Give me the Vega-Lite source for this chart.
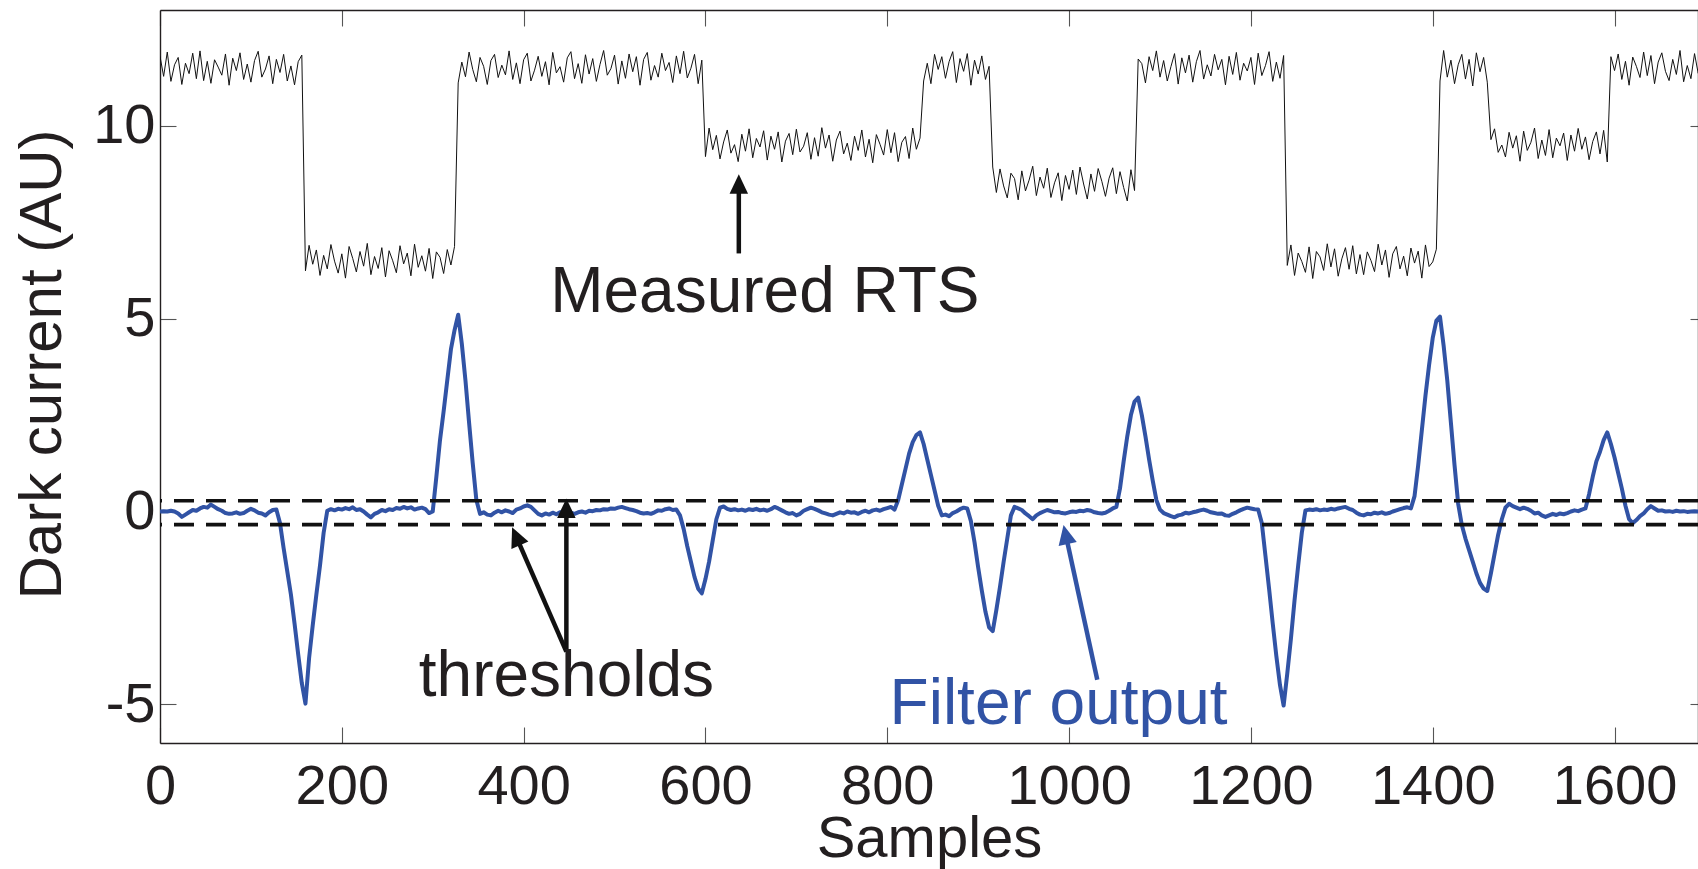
{
"$schema":"https://vega.github.io/schema/vega-lite/v6.json",
"autosize":"none",
"width":1538,"height":733,
"padding":{"left":160,"top":10,"right":0,"bottom":126},
"background":"white",
"config":{"view":{"stroke":null},"font":"Liberation Sans","axis":{"grid":false,"labelFont":"Liberation Sans","titleFont":"Liberation Sans","labelColor":"#231f20","titleColor":"#231f20","titleFontWeight":"normal","domainColor":"#231f20","domainWidth":1.4,"tickColor":"#555","tickWidth":1.1,"labelFlush":false,"labelOverlap":false,"labelBound":false}},
"datasets":{"sig":[
{"x":0,"r":11.80,"f":0.00},{"x":4,"r":11.28,"f":0.01},{"x":8,"r":11.91,"f":0.00},{"x":12,"r":11.15,"f":0.02},{"x":16,"r":11.58,"f":0.00},{"x":20,"r":11.77,"f":-0.05},{"x":24,"r":11.07,"f":-0.14},{"x":28,"r":11.62,"f":-0.08},{"x":32,"r":11.35,"f":-0.02},{"x":36,"r":11.88,"f":0.04},
{"x":40,"r":11.22,"f":0.02},{"x":44,"r":11.94,"f":0.08},{"x":48,"r":11.17,"f":0.12},{"x":52,"r":11.67,"f":0.10},{"x":56,"r":11.10,"f":0.18},{"x":60,"r":11.71,"f":0.12},{"x":64,"r":11.52,"f":0.06},{"x":68,"r":11.31,"f":0.02},{"x":72,"r":11.86,"f":-0.04},{"x":76,"r":11.05,"f":-0.06},
{"x":80,"r":11.75,"f":-0.05},{"x":84,"r":11.43,"f":-0.02},{"x":88,"r":11.89,"f":-0.06},{"x":92,"r":11.20,"f":-0.04},{"x":96,"r":11.60,"f":0.02},{"x":100,"r":11.13,"f":0.07},{"x":104,"r":11.69,"f":0.03},{"x":108,"r":11.93,"f":-0.03},{"x":112,"r":11.26,"f":-0.05},{"x":116,"r":11.47,"f":-0.10},
{"x":120,"r":11.81,"f":-0.02},{"x":124,"r":11.09,"f":0.04},{"x":128,"r":11.72,"f":0.05},{"x":132,"r":11.38,"f":-0.30},{"x":136,"r":11.85,"f":-0.95},{"x":140,"r":11.16,"f":-1.55},{"x":144,"r":11.55,"f":-2.15},{"x":148,"r":11.06,"f":-2.90},{"x":152,"r":11.66,"f":-3.70},{"x":156,"r":11.83,"f":-4.45},
{"x":160,"r":6.24,"f":-4.98},{"x":164,"r":6.90,"f":-3.80},{"x":168,"r":6.41,"f":-2.95},{"x":172,"r":6.78,"f":-2.15},{"x":176,"r":6.12,"f":-1.40},{"x":180,"r":6.64,"f":-0.55},{"x":184,"r":6.29,"f":0.02},{"x":188,"r":6.92,"f":0.06},{"x":192,"r":6.49,"f":0.03},{"x":196,"r":6.18,"f":0.07},
{"x":200,"r":6.68,"f":0.05},{"x":204,"r":6.05,"f":0.09},{"x":208,"r":6.87,"f":0.06},{"x":212,"r":6.56,"f":0.11},{"x":216,"r":6.21,"f":0.04},{"x":220,"r":6.74,"f":0.06},{"x":224,"r":6.36,"f":0.00},{"x":228,"r":6.95,"f":-0.08},{"x":232,"r":6.14,"f":-0.15},{"x":236,"r":6.61,"f":-0.06},
{"x":240,"r":6.30,"f":-0.02},{"x":244,"r":6.84,"f":0.04},{"x":248,"r":6.08,"f":0.01},{"x":252,"r":6.76,"f":0.06},{"x":256,"r":6.50,"f":0.04},{"x":260,"r":6.19,"f":0.09},{"x":264,"r":6.89,"f":0.07},{"x":268,"r":6.42,"f":0.12},{"x":272,"r":6.70,"f":0.08},{"x":276,"r":6.11,"f":0.11},
{"x":280,"r":6.93,"f":0.05},{"x":284,"r":6.33,"f":0.08},{"x":288,"r":6.63,"f":0.10},{"x":292,"r":6.23,"f":0.06},{"x":296,"r":6.82,"f":-0.04},{"x":300,"r":6.04,"f":0.00},{"x":304,"r":6.73,"f":0.90},{"x":308,"r":6.59,"f":1.85},{"x":312,"r":6.17,"f":2.60},{"x":316,"r":6.79,"f":3.40},
{"x":320,"r":6.39,"f":4.20},{"x":324,"r":6.87,"f":4.70},{"x":328,"r":11.11,"f":5.10},{"x":332,"r":11.65,"f":4.35},{"x":336,"r":11.27,"f":3.40},{"x":340,"r":11.91,"f":2.30},{"x":344,"r":11.46,"f":1.25},{"x":348,"r":11.14,"f":0.30},{"x":352,"r":11.77,"f":-0.06},{"x":356,"r":11.54,"f":-0.02},
{"x":360,"r":11.07,"f":-0.08},{"x":364,"r":11.69,"f":-0.10},{"x":368,"r":11.85,"f":-0.03},{"x":372,"r":11.25,"f":0.02},{"x":376,"r":11.57,"f":-0.02},{"x":380,"r":11.32,"f":0.03},{"x":384,"r":11.94,"f":0.00},{"x":388,"r":11.20,"f":-0.04},{"x":392,"r":11.63,"f":0.05},{"x":396,"r":11.09,"f":0.08},
{"x":400,"r":11.71,"f":0.13},{"x":404,"r":11.88,"f":0.16},{"x":408,"r":11.16,"f":0.12},{"x":412,"r":11.44,"f":0.03},{"x":416,"r":11.80,"f":-0.06},{"x":420,"r":11.28,"f":-0.10},{"x":424,"r":11.66,"f":-0.05},{"x":428,"r":11.06,"f":-0.08},{"x":432,"r":11.90,"f":-0.03},{"x":436,"r":11.37,"f":-0.07},
{"x":440,"r":11.53,"f":-0.02},{"x":444,"r":11.13,"f":-0.04},{"x":448,"r":11.76,"f":-0.06},{"x":452,"r":11.92,"f":-0.03},{"x":456,"r":11.22,"f":-0.06},{"x":460,"r":11.61,"f":-0.02},{"x":464,"r":11.10,"f":0.00},{"x":468,"r":11.84,"f":-0.03},{"x":472,"r":11.34,"f":0.02},{"x":476,"r":11.74,"f":0.01},
{"x":480,"r":11.15,"f":0.04},{"x":484,"r":11.59,"f":0.03},{"x":488,"r":11.95,"f":0.06},{"x":492,"r":11.31,"f":0.05},{"x":496,"r":11.48,"f":0.08},{"x":500,"r":11.83,"f":0.07},{"x":504,"r":11.08,"f":0.10},{"x":508,"r":11.68,"f":0.12},{"x":512,"r":11.23,"f":0.09},{"x":516,"r":11.86,"f":0.06},
{"x":520,"r":11.40,"f":0.04},{"x":524,"r":11.79,"f":0.01},{"x":528,"r":11.05,"f":-0.03},{"x":532,"r":11.72,"f":-0.05},{"x":536,"r":11.90,"f":-0.04},{"x":540,"r":11.18,"f":-0.06},{"x":544,"r":11.56,"f":-0.02},{"x":548,"r":11.26,"f":0.03},{"x":552,"r":11.88,"f":0.02},{"x":556,"r":11.43,"f":0.06},
{"x":560,"r":11.64,"f":0.08},{"x":564,"r":11.12,"f":0.04},{"x":568,"r":11.81,"f":0.05},{"x":572,"r":11.35,"f":-0.10},{"x":576,"r":11.93,"f":-0.45},{"x":580,"r":11.24,"f":-0.90},{"x":584,"r":11.49,"f":-1.30},{"x":588,"r":11.85,"f":-1.70},{"x":592,"r":11.09,"f":-2.00},{"x":596,"r":11.70,"f":-2.12},
{"x":600,"r":9.20,"f":-1.75},{"x":604,"r":9.94,"f":-1.30},{"x":608,"r":9.38,"f":-0.75},{"x":612,"r":9.75,"f":-0.20},{"x":616,"r":9.14,"f":0.10},{"x":620,"r":9.58,"f":0.13},{"x":624,"r":9.89,"f":0.07},{"x":628,"r":9.29,"f":0.04},{"x":632,"r":9.51,"f":0.06},{"x":636,"r":9.07,"f":0.03},
{"x":640,"r":9.78,"f":0.05},{"x":644,"r":9.34,"f":0.02},{"x":648,"r":9.92,"f":0.06},{"x":652,"r":9.17,"f":0.04},{"x":656,"r":9.67,"f":0.07},{"x":660,"r":9.45,"f":0.03},{"x":664,"r":9.87,"f":0.05},{"x":668,"r":9.11,"f":0.02},{"x":672,"r":9.73,"f":0.06},{"x":676,"r":9.39,"f":0.12},
{"x":680,"r":9.84,"f":0.08},{"x":684,"r":9.06,"f":0.03},{"x":688,"r":9.60,"f":-0.02},{"x":692,"r":9.80,"f":-0.06},{"x":696,"r":9.25,"f":-0.04},{"x":700,"r":9.91,"f":-0.10},{"x":704,"r":9.32,"f":-0.06},{"x":708,"r":9.47,"f":0.02},{"x":712,"r":9.82,"f":0.06},{"x":716,"r":9.13,"f":0.10},
{"x":720,"r":9.69,"f":0.07},{"x":724,"r":9.21,"f":0.03},{"x":728,"r":9.95,"f":-0.02},{"x":732,"r":9.42,"f":-0.05},{"x":736,"r":9.76,"f":-0.08},{"x":740,"r":9.08,"f":-0.10},{"x":744,"r":9.63,"f":-0.06},{"x":748,"r":9.86,"f":-0.02},{"x":752,"r":9.27,"f":-0.05},{"x":756,"r":9.55,"f":0.00},
{"x":760,"r":9.10,"f":-0.03},{"x":764,"r":9.73,"f":-0.02},{"x":768,"r":9.36,"f":-0.06},{"x":772,"r":9.89,"f":-0.01},{"x":776,"r":9.19,"f":0.02},{"x":780,"r":9.65,"f":-0.02},{"x":784,"r":9.04,"f":0.03},{"x":788,"r":9.77,"f":0.05},{"x":792,"r":9.52,"f":0.02},{"x":796,"r":9.24,"f":0.06},
{"x":800,"r":9.90,"f":0.09},{"x":804,"r":9.30,"f":0.12},{"x":808,"r":9.82,"f":0.05},{"x":812,"r":9.07,"f":0.30},{"x":816,"r":9.57,"f":0.70},{"x":820,"r":9.72,"f":1.10},{"x":824,"r":9.15,"f":1.50},{"x":828,"r":9.94,"f":1.80},{"x":832,"r":9.39,"f":1.98},{"x":836,"r":9.68,"f":2.05},
{"x":840,"r":11.16,"f":1.75},{"x":844,"r":11.62,"f":1.35},{"x":848,"r":11.09,"f":0.95},{"x":852,"r":11.85,"f":0.55},{"x":856,"r":11.46,"f":0.15},{"x":860,"r":11.79,"f":-0.10},{"x":864,"r":11.23,"f":-0.08},{"x":868,"r":11.66,"f":-0.12},{"x":872,"r":11.92,"f":-0.04},{"x":876,"r":11.12,"f":0.00},
{"x":880,"r":11.74,"f":0.06},{"x":884,"r":11.41,"f":0.10},{"x":888,"r":11.87,"f":0.08},{"x":892,"r":11.05,"f":-0.25},{"x":896,"r":11.70,"f":-0.80},{"x":900,"r":11.34,"f":-1.45},{"x":904,"r":11.81,"f":-2.05},{"x":908,"r":11.20,"f":-2.60},{"x":912,"r":11.54,"f":-3.00},{"x":916,"r":8.93,"f":-3.10},
{"x":920,"r":8.27,"f":-2.55},{"x":924,"r":8.88,"f":-1.95},{"x":928,"r":8.44,"f":-1.30},{"x":932,"r":8.13,"f":-0.70},{"x":936,"r":8.77,"f":-0.10},{"x":940,"r":8.63,"f":0.12},{"x":944,"r":8.08,"f":0.08},{"x":948,"r":8.83,"f":0.04},{"x":952,"r":8.31,"f":-0.05},{"x":956,"r":8.59,"f":-0.12},
{"x":960,"r":8.95,"f":-0.20},{"x":964,"r":8.19,"f":-0.10},{"x":968,"r":8.67,"f":-0.04},{"x":972,"r":8.38,"f":0.00},{"x":976,"r":8.90,"f":0.04},{"x":980,"r":8.14,"f":0.01},{"x":984,"r":8.52,"f":-0.02},{"x":988,"r":8.78,"f":-0.01},{"x":992,"r":8.06,"f":-0.04},{"x":996,"r":8.71,"f":-0.05},
{"x":1000,"r":8.35,"f":-0.02},{"x":1004,"r":8.85,"f":0.00},{"x":1008,"r":8.22,"f":-0.01},{"x":1012,"r":8.93,"f":0.02},{"x":1016,"r":8.49,"f":0.01},{"x":1020,"r":8.10,"f":0.04},{"x":1024,"r":8.75,"f":0.02},{"x":1028,"r":8.30,"f":-0.02},{"x":1032,"r":8.89,"f":-0.04},{"x":1036,"r":8.56,"f":-0.05},
{"x":1040,"r":8.17,"f":-0.03},{"x":1044,"r":8.64,"f":0.02},{"x":1048,"r":8.91,"f":0.08},{"x":1052,"r":8.24,"f":0.12},{"x":1056,"r":8.81,"f":0.60},{"x":1060,"r":8.40,"f":1.30},{"x":1064,"r":8.05,"f":1.95},{"x":1068,"r":8.86,"f":2.50},{"x":1072,"r":8.32,"f":2.85},{"x":1076,"r":11.73,"f":2.95},
{"x":1080,"r":11.61,"f":2.50},{"x":1084,"r":11.11,"f":1.95},{"x":1088,"r":11.79,"f":1.35},{"x":1092,"r":11.43,"f":0.80},{"x":1096,"r":11.94,"f":0.30},{"x":1100,"r":11.26,"f":0.05},{"x":1104,"r":11.69,"f":-0.04},{"x":1108,"r":11.16,"f":-0.08},{"x":1112,"r":11.53,"f":-0.12},{"x":1116,"r":11.87,"f":-0.15},
{"x":1120,"r":11.08,"f":-0.10},{"x":1124,"r":11.76,"f":-0.08},{"x":1128,"r":11.37,"f":-0.03},{"x":1132,"r":11.83,"f":-0.05},{"x":1136,"r":11.13,"f":-0.02},{"x":1140,"r":11.66,"f":0.00},{"x":1144,"r":11.95,"f":0.03},{"x":1148,"r":11.21,"f":0.05},{"x":1152,"r":11.58,"f":0.02},{"x":1156,"r":11.29,"f":-0.02},
{"x":1160,"r":11.85,"f":-0.04},{"x":1164,"r":11.45,"f":-0.06},{"x":1168,"r":11.72,"f":-0.05},{"x":1172,"r":11.06,"f":-0.10},{"x":1176,"r":11.80,"f":-0.11},{"x":1180,"r":11.33,"f":-0.06},{"x":1184,"r":11.90,"f":-0.02},{"x":1188,"r":11.18,"f":0.03},{"x":1192,"r":11.62,"f":0.07},{"x":1196,"r":11.42,"f":0.10},
{"x":1200,"r":11.77,"f":0.08},{"x":1204,"r":11.07,"f":0.06},{"x":1208,"r":11.88,"f":0.05},{"x":1212,"r":11.30,"f":-0.30},{"x":1216,"r":11.56,"f":-1.15},{"x":1220,"r":11.92,"f":-2.00},{"x":1224,"r":11.15,"f":-2.90},{"x":1228,"r":11.65,"f":-3.75},{"x":1232,"r":11.23,"f":-4.50},{"x":1236,"r":11.82,"f":-5.03},
{"x":1240,"r":6.38,"f":-4.20},{"x":1244,"r":6.91,"f":-3.30},{"x":1248,"r":6.12,"f":-2.30},{"x":1252,"r":6.70,"f":-1.40},{"x":1256,"r":6.48,"f":-0.55},{"x":1260,"r":6.20,"f":0.03},{"x":1264,"r":6.86,"f":0.05},{"x":1268,"r":6.04,"f":0.04},{"x":1272,"r":6.74,"f":0.06},{"x":1276,"r":6.60,"f":0.03},
{"x":1280,"r":6.25,"f":0.05},{"x":1284,"r":6.94,"f":0.04},{"x":1288,"r":6.34,"f":0.07},{"x":1292,"r":6.81,"f":0.05},{"x":1296,"r":6.10,"f":0.08},{"x":1300,"r":6.55,"f":0.10},{"x":1304,"r":6.84,"f":0.12},{"x":1308,"r":6.28,"f":0.07},{"x":1312,"r":6.89,"f":0.04},{"x":1316,"r":6.16,"f":-0.03},
{"x":1320,"r":6.66,"f":-0.08},{"x":1324,"r":6.14,"f":-0.10},{"x":1328,"r":6.73,"f":-0.06},{"x":1332,"r":6.51,"f":-0.07},{"x":1336,"r":6.22,"f":-0.03},{"x":1340,"r":6.93,"f":-0.05},{"x":1344,"r":6.39,"f":-0.02},{"x":1348,"r":6.78,"f":-0.06},{"x":1352,"r":6.07,"f":-0.04},{"x":1356,"r":6.68,"f":0.00},
{"x":1360,"r":6.87,"f":0.03},{"x":1364,"r":6.29,"f":0.06},{"x":1368,"r":6.62,"f":0.09},{"x":1372,"r":6.11,"f":0.11},{"x":1376,"r":6.83,"f":0.08},{"x":1380,"r":6.44,"f":0.40},{"x":1384,"r":6.75,"f":1.20},{"x":1388,"r":6.05,"f":2.10},{"x":1392,"r":6.91,"f":3.00},{"x":1396,"r":6.35,"f":3.80},
{"x":1400,"r":6.47,"f":4.50},{"x":1404,"r":6.80,"f":4.95},{"x":1408,"r":11.16,"f":5.05},{"x":1412,"r":11.95,"f":4.30},{"x":1416,"r":11.26,"f":3.40},{"x":1420,"r":11.70,"f":2.30},{"x":1424,"r":11.09,"f":1.20},{"x":1428,"r":11.58,"f":0.20},{"x":1432,"r":11.85,"f":-0.35},{"x":1436,"r":11.21,"f":-0.70},
{"x":1440,"r":11.72,"f":-1.00},{"x":1444,"r":11.03,"f":-1.30},{"x":1448,"r":11.89,"f":-1.60},{"x":1452,"r":11.40,"f":-1.85},{"x":1456,"r":11.77,"f":-2.00},{"x":1460,"r":11.13,"f":-2.06},{"x":1464,"r":9.64,"f":-1.60},{"x":1468,"r":9.92,"f":-1.10},{"x":1472,"r":9.31,"f":-0.60},{"x":1476,"r":9.50,"f":-0.20},
{"x":1480,"r":9.19,"f":0.10},{"x":1484,"r":9.83,"f":0.20},{"x":1488,"r":9.42,"f":0.14},{"x":1492,"r":9.74,"f":0.10},{"x":1496,"r":9.08,"f":0.06},{"x":1500,"r":9.86,"f":0.10},{"x":1504,"r":9.36,"f":0.07},{"x":1508,"r":9.57,"f":0.02},{"x":1512,"r":9.94,"f":-0.05},{"x":1516,"r":9.15,"f":-0.03},
{"x":1520,"r":9.63,"f":-0.10},{"x":1524,"r":9.23,"f":-0.14},{"x":1528,"r":9.90,"f":-0.10},{"x":1532,"r":9.17,"f":-0.06},{"x":1536,"r":9.68,"f":-0.09},{"x":1540,"r":9.48,"f":-0.05},{"x":1544,"r":9.81,"f":-0.07},{"x":1548,"r":9.10,"f":-0.04},{"x":1552,"r":9.76,"f":0.00},{"x":1556,"r":9.34,"f":0.03},
{"x":1560,"r":9.93,"f":0.01},{"x":1564,"r":9.39,"f":0.05},{"x":1568,"r":9.71,"f":0.08},{"x":1572,"r":9.12,"f":0.45},{"x":1576,"r":9.59,"f":0.90},{"x":1580,"r":9.84,"f":1.30},{"x":1584,"r":9.27,"f":1.55},{"x":1588,"r":9.88,"f":1.85},{"x":1592,"r":9.06,"f":2.05},{"x":1596,"r":11.79,"f":1.75},
{"x":1600,"r":11.43,"f":1.40},{"x":1604,"r":11.86,"f":1.00},{"x":1608,"r":11.20,"f":0.60},{"x":1612,"r":11.67,"f":0.15},{"x":1616,"r":11.05,"f":-0.20},{"x":1620,"r":11.78,"f":-0.30},{"x":1624,"r":11.54,"f":-0.22},{"x":1628,"r":11.25,"f":-0.12},{"x":1632,"r":11.91,"f":-0.05},{"x":1636,"r":11.30,"f":0.06},
{"x":1640,"r":11.82,"f":0.14},{"x":1644,"r":11.09,"f":0.08},{"x":1648,"r":11.65,"f":0.02},{"x":1652,"r":11.89,"f":0.03},{"x":1656,"r":11.41,"f":0.00},{"x":1660,"r":11.17,"f":0.01},{"x":1664,"r":11.72,"f":-0.01},{"x":1668,"r":11.33,"f":0.02},{"x":1672,"r":11.95,"f":0.00},{"x":1676,"r":11.14,"f":0.01},
{"x":1680,"r":11.56,"f":-0.01},{"x":1684,"r":11.22,"f":0.00},{"x":1688,"r":11.87,"f":0.01},{"x":1692,"r":11.36,"f":0.00},{"x":1696,"r":11.75,"f":-0.01},{"x":1700,"r":11.11,"f":0.00}
]},
"layer":[
{"data":{"name":"sig"},"mark":{"type":"line","color":"#111","strokeWidth":1.0,"clip":true},
 "encoding":{
  "x":{"field":"x","type":"quantitative","scale":{"domain":[0,1691.8],"nice":false,"zero":false},"axis":{"orient":"top","values":[0,200,400,600,800,1000,1200,1400,1600],"labels":false,"title":null,"tickSize":-16,"domain":true}},
  "y":{"field":"r","type":"quantitative","scale":{"domain":[-6,13],"nice":false,"zero":false},"axis":{"orient":"right","values":[-5,0,5,10],"labels":false,"title":null,"tickSize":-8,"domain":true}}}},
{"data":{"name":"sig"},"mark":{"type":"line","color":"#3153a5","strokeWidth":4,"clip":true,"strokeJoin":"round"},
 "encoding":{
  "x":{"field":"x","type":"quantitative","scale":{"domain":[0,1691.8],"nice":false,"zero":false},"axis":{"orient":"bottom","values":[0,200,400,600,800,1000,1200,1400,1600],"labelExpr":"'' + datum.value","tickSize":-16,"labelFontSize":56,"labelBaseline":"alphabetic","labelPadding":76,"title":"Samples","titleFontSize":58,"titleBaseline":"alphabetic","titleY":113}},
  "y":{"field":"f","type":"quantitative","scale":{"domain":[-6,13],"nice":false,"zero":false},"axis":{"orient":"left","values":[-5,0,5,10],"labelExpr":"'' + datum.value","tickSize":-16,"labelFontSize":56,"labelBaseline":"middle","labelPadding":21,"title":"Dark current (AU)","titleFontSize":60,"titleAngle":-90,"titleBaseline":"alphabetic","titleAlign":"center","titleX":-100,"titleY":354}}}},
{"data":{"values":[{"t":0.28},{"t":-0.34}]},"mark":{"type":"rule","color":"#111","strokeWidth":3.6,"strokeDash":[20,12]},
 "encoding":{"y":{"field":"t","type":"quantitative","axis":null}}},
{"data":{"values":[{"x":636.7,"y":6.69,"x2":636.7,"y2":8.39},{"x":447,"y":-3.63,"x2":447,"y2":0.0},{"x":447,"y":-3.63,"x2":393.5,"y2":-0.74}]},
 "mark":{"type":"rule","color":"#111","strokeWidth":4.5},
 "encoding":{"x":{"field":"x","type":"quantitative","axis":null},"y":{"field":"y","type":"quantitative","axis":null},"x2":{"field":"x2"},"y2":{"field":"y2"}}},
{"data":{"values":[{"x":636.7,"y":8.74,"a":0},{"x":447,"y":0.34,"a":0},{"x":387.3,"y":-0.41,"a":-23.6}]},
 "mark":{"type":"point","shape":"M0,0L0.95,2L-0.95,2Z","size":380,"filled":true,"opacity":1,"color":"#111","strokeWidth":0},
 "encoding":{"x":{"field":"x","type":"quantitative","axis":null},"y":{"field":"y","type":"quantitative","axis":null},"angle":{"field":"a","type":"quantitative","scale":null}}},
{"data":{"values":[{"x":1031,"y":-4.36,"x2":997.2,"y2":-0.70}]},
 "mark":{"type":"rule","color":"#3153a5","strokeWidth":4.5},
 "encoding":{"x":{"field":"x","type":"quantitative","axis":null},"y":{"field":"y","type":"quantitative","axis":null},"x2":{"field":"x2"},"y2":{"field":"y2"}}},
{"data":{"values":[{"x":993.9,"y":-0.35,"a":-12.3}]},
 "mark":{"type":"point","shape":"M0,0L0.95,2L-0.95,2Z","size":380,"filled":true,"opacity":1,"color":"#3153a5","strokeWidth":0},
 "encoding":{"x":{"field":"x","type":"quantitative","axis":null},"y":{"field":"y","type":"quantitative","axis":null},"angle":{"field":"a","type":"quantitative","scale":null}}},
{"data":{"values":[{"label":"Measured RTS","x":665.3,"y":5.18},{"label":"thresholds","x":447.1,"y":-4.79}]},
 "mark":{"type":"text","fontSize":64,"font":"Liberation Sans","color":"#231f20","align":"center","baseline":"alphabetic"},
 "encoding":{"x":{"field":"x","type":"quantitative","axis":null},"y":{"field":"y","type":"quantitative","axis":null},"text":{"field":"label"}}},
{"data":{"values":[{"label":"Filter output","x":988.4,"y":-5.52}]},
 "mark":{"type":"text","fontSize":64,"font":"Liberation Sans","color":"#3153a5","align":"center","baseline":"alphabetic"},
 "encoding":{"x":{"field":"x","type":"quantitative","axis":null},"y":{"field":"y","type":"quantitative","axis":null},"text":{"field":"label"}}}
],
"resolve":{"axis":{"x":"independent","y":"independent"}}
}
